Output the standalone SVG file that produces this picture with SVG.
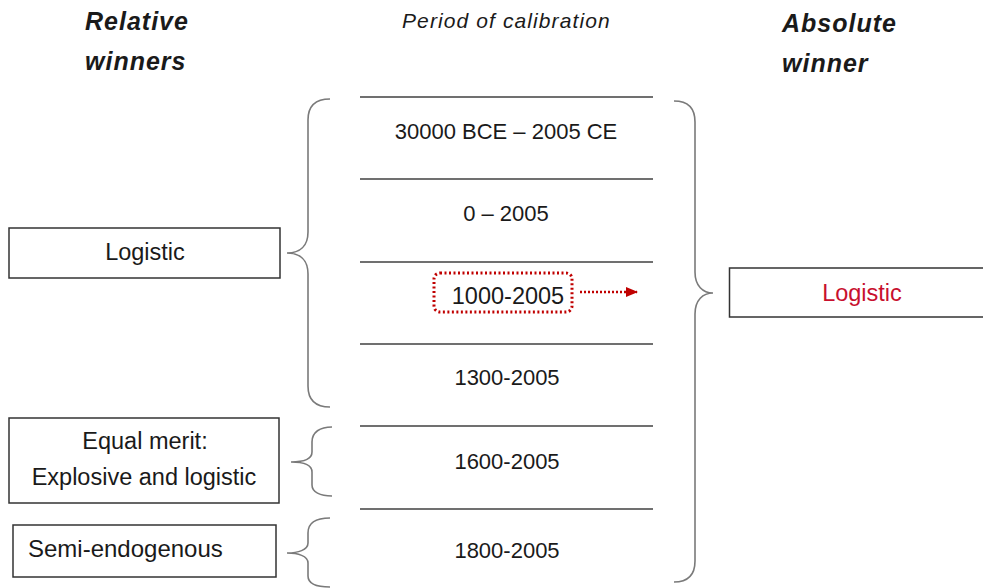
<svg xmlns="http://www.w3.org/2000/svg" width="983" height="588" viewBox="0 0 983 588">
<defs>
<style>
text{font-family:"Liberation Sans",Arial,sans-serif;fill:#1a1a1a}
.hdr{font-size:25px;font-weight:bold;font-style:italic;letter-spacing:1px}
.sub{font-size:21px;font-style:italic;letter-spacing:1.1px}
.per{font-size:22px;text-anchor:middle}
.lbl{font-size:23.5px;text-anchor:middle}
.box{fill:#fff;stroke:#333;stroke-width:1.5}
.sep{stroke:#404040;stroke-width:1.5}
.brace{fill:none;stroke:#7a7a7a;stroke-width:1.6}
</style>
<marker id="ah" markerWidth="12" markerHeight="10" refX="11" refY="5" orient="auto" markerUnits="userSpaceOnUse">
<path d="M0,0 L12,5 L0,10 Z" fill="#C00000"/>
</marker>
</defs>
<rect width="983" height="588" fill="#fff"/>
<g id="headers">
<text class="hdr" x="85" y="30">Relative</text>
<text class="hdr" x="85" y="70">winners</text>
<text class="sub" x="402" y="28">Period of calibration</text>
<text class="hdr" x="782" y="32">Absolute</text>
<text class="hdr" x="782" y="72">winner</text>
</g>
<g id="periods">
<line class="sep" x1="360" y1="97" x2="653" y2="97"/>
<line class="sep" x1="360" y1="179" x2="653" y2="179"/>
<line class="sep" x1="360" y1="262" x2="653" y2="262"/>
<line class="sep" x1="360" y1="344" x2="653" y2="344"/>
<line class="sep" x1="360" y1="426" x2="653" y2="426"/>
<line class="sep" x1="360" y1="509" x2="653" y2="509"/>
<text class="per" x="506" y="139">30000 BCE – 2005 CE</text>
<text class="per" x="506" y="221">0 – 2005</text>
<text class="per" x="507" y="385">1300-2005</text>
<text class="per" x="507" y="469">1600-2005</text>
<text class="per" x="507" y="558">1800-2005</text>
</g>
<g id="highlight">
<rect x="434" y="273" width="138" height="39" rx="6" fill="none" stroke="#C00000" stroke-width="3" stroke-dasharray="2 2.5"/>
<text class="per" x="508" y="304" style="font-size:23.5px">1000-2005</text>
</g>
<g id="rel-logistic">
<rect class="box" x="9" y="228" width="271" height="50"/>
<text class="lbl" x="145" y="260">Logistic</text>
</g>
<g id="rel-equal">
<rect class="box" x="9" y="418" width="270" height="85"/>
<text class="lbl" x="145" y="449">Equal merit:</text>
<text class="lbl" x="144" y="485">Explosive and logistic</text>
</g>
<g id="rel-semi">
<rect class="box" x="13" y="525" width="263" height="52"/>
<text class="lbl" x="28" y="557" style="text-anchor:start;font-size:24px">Semi-endogenous</text>
</g>
<g id="abs-logistic">
<rect class="box" x="729.5" y="268" width="260" height="49"/>
<text class="lbl" x="862" y="301" style="fill:#C8102E">Logistic</text>
</g>
<g id="connectors">
<path class="brace" d="M330,99 C316,99 308,106 308,120 L308,232 C308,246 300,253 287,253 C300,253 308,260 308,274 L308,386 C308,400 316,407 330,407"/>
<path class="brace" d="M332,427 C320,427 312,432 312,442 L312,452 C312,459 303,462 291,462 C303,462 312,465 312,472 L312,485 C312,492 320,496 332,496"/>
<path class="brace" d="M330,518 C316,518 308,523 308,533 L308,543 C308,550 298,553 287,553 C298,553 308,556 308,563 L308,576 C308,583 316,587 330,587"/>
<path class="brace" d="M674,101 C688,101 695,108 695,122 L695,272 C695,286 703,293 713,293 C703,293 695,300 695,314 L695,561 C695,575 688,582 674,582"/>
<line x1="580" y1="292" x2="637" y2="292" stroke="#C00000" stroke-width="2.5" stroke-dasharray="2 2" marker-end="url(#ah)"/>
</g>
</svg>
